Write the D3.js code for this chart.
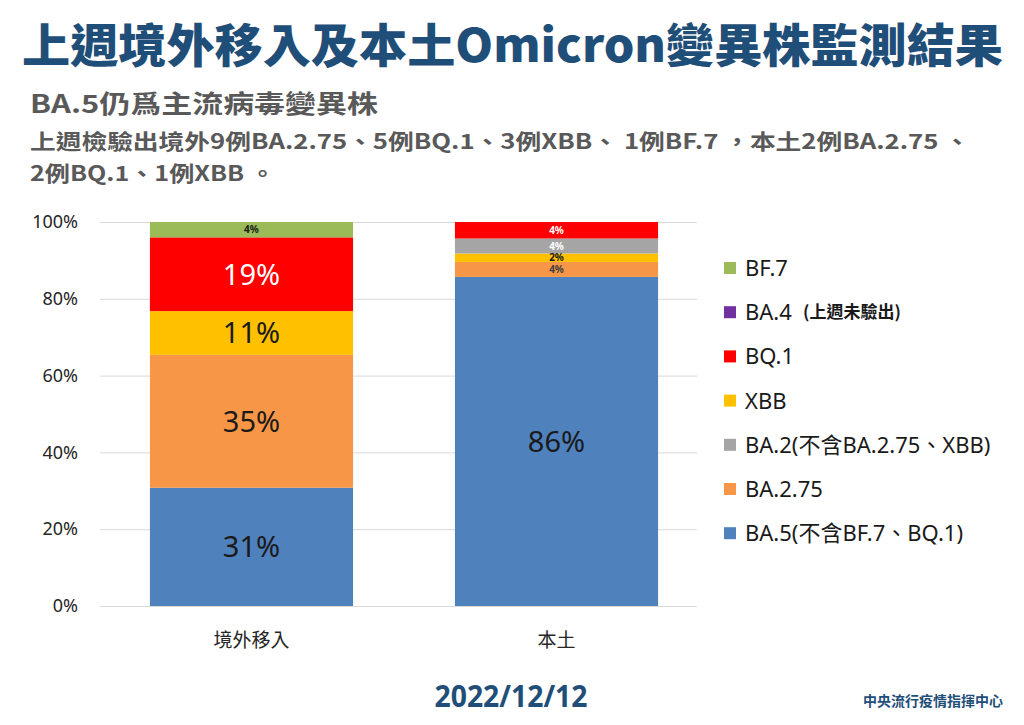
<!DOCTYPE html>
<html>
<head>
<meta charset="utf-8">
<script src="https://cdn.jsdelivr.net/npm/d3@7"></script>
<style>
  body { margin: 0; background: #fff; }
  text { font-family: "Noto Sans", "Noto Sans CJK TC", sans-serif; }
</style>
</head>
<body>
<div id="chart"></div>
<script>
// categories and series (percent of sequenced cases), stacked bottom -> top
let categories = ["境外移入", "本土"];
let variants = ["BA.5", "BA.2.75", "XBB", "BA.2", "BQ.1", "BA.4", "BF.7"];
let imported = [30.8, 34.6, 11.4, 0, 19.2, 0, 4.0];
let domestic = [85.7, 3.9, 2.2, 3.9, 4.3, 0, 0];
let yTicks = [0, 20, 40, 60, 80, 100];

let legendNames = ["BF.7", "BA.4", "BQ.1", "XBB", "BA.2(不含BA.2.75、XBB)", "BA.2.75", "BA.5(不含BF.7、BQ.1)"];
let legendKeys = ["BF.7", "BA.4", "BQ.1", "XBB", "BA.2", "BA.2.75", "BA.5"];

let colors = {
  "BA.5": "#4f81bd", "BA.2.75": "#f79646", "XBB": "#ffc000", "BA.2": "#a5a5a5",
  "BQ.1": "#ff0000", "BA.4": "#7030a0", "BF.7": "#9bbb59"
};

let W = 1024, H = 725;
let plot = {left: 100, right: 697, top: 222, bottom: 606};

let svg = d3.select("#chart").append("svg")
  .attr("width", W).attr("height", H);

// titles
svg.append("text")
  .attr("x", 22).attr("y", 62)
  .attr("textLength", 981).attr("lengthAdjust", "spacingAndGlyphs")
  .style("font-family", "'Noto Sans CJK TC', sans-serif")
  .style("font-weight", 900).style("font-size", "46px")
  .style("fill", "#1f4e79")
  .text("上週境外移入及本土Omicron變異株監測結果");

let sub = [
  {t: "BA.5仍爲主流病毒變異株", y: 113, size: 25, len: 348},
  {t: "上週檢驗出境外9例BA.2.75、5例BQ.1、3例XBB、 1例BF.7 ，本土2例BA.2.75 、", y: 149, size: 21, len: 940},
  {t: "2例BQ.1、1例XBB 。", y: 181, size: 21, len: 245}
];
svg.selectAll(".sub").data(sub).enter().append("text")
  .attr("x", 30).attr("y", d => d.y)
  .attr("textLength", d => d.len).attr("lengthAdjust", "spacingAndGlyphs")
  .style("font-family", "'Noto Sans CJK TC', sans-serif")
  .style("font-weight", 700).style("font-size", d => d.size + "px")
  .style("fill", "#595959")
  .text(d => d.t);

// scales
let x = d3.scaleBand()
  .domain(categories)
  .range([106, 702])
  .paddingInner(0.334).paddingOuter(0.144);

let y = d3.scaleLinear()
  .domain([0, 100])
  .range([plot.bottom, plot.top]);

// gridlines + y axis
let yAxis = d3.axisLeft(y)
  .tickValues(yTicks)
  .tickSize(-(plot.right - plot.left))
  .tickFormat(d => d + "%");

let gy = svg.append("g")
  .attr("transform", "translate(" + plot.left + ",0)")
  .call(yAxis);
gy.select(".domain").remove();
gy.selectAll("line").attr("stroke", "#d9d9d9");
gy.selectAll("text")
  .attr("x", -22)
  .style("font-size", "18px").style("fill", "#262626");

// x axis labels
let gx = svg.append("g")
  .attr("transform", "translate(0," + plot.bottom + ")")
  .call(d3.axisBottom(x).tickSize(0));
gx.select(".domain").remove();
gx.selectAll("text")
  .attr("dy", "2em")
  .style("font-family", "'Noto Sans CJK TC', sans-serif")
  .style("font-size", "19px").style("fill", "#262626");

// stacked data
let rows = categories.map((c, i) => {
  let vals = i === 0 ? imported : domestic;
  let r = {cat: c};
  variants.forEach((v, j) => r[v] = vals[j]);
  return r;
});
let series = d3.stack().keys(variants)(rows);

let layer = svg.selectAll(".layer").data(series).enter().append("g")
  .attr("fill", d => colors[d.key]);

layer.selectAll("rect").data(d => d.map(p => ({p: p, key: d.key})))
  .enter().append("rect")
  .attr("x", d => x(d.p.data.cat))
  .attr("width", x.bandwidth())
  .attr("y", d => y(d.p[1]))
  .attr("height", d => y(d.p[0]) - y(d.p[1]));

// value labels
let labelColor = {"BQ.1": "#ffffff", "BA.2": "#ffffff"};
let cells = [];
series.forEach(s => s.forEach(p => {
  let v = p[1] - p[0];
  if (v > 0) cells.push({key: s.key, p: p, v: v});
}));

svg.selectAll(".val").data(cells).enter().append("text")
  .attr("x", d => x(d.p.data.cat) + x.bandwidth() / 2)
  .attr("y", d => (y(d.p[0]) + y(d.p[1])) / 2)
  .attr("dy", "0.36em")
  .attr("text-anchor", "middle")
  .style("font-size", d => d.v > 8 ? "29px" : "10px")
  .style("font-weight", d => d.v > 8 ? 400 : 700)
  .style("fill", d => {
    if (labelColor[d.key]) return labelColor[d.key];
    if (d.key === "BA.2.75" && d.v < 8) return "#404040";
    return "#1a1a1a";
  })
  .text(d => Math.round(d.v) + "%");

// legend
let lg = svg.selectAll(".lg").data(legendKeys).enter().append("g")
  .attr("transform", (d, i) => "translate(724," + (268 + i * 44.2) + ")");
lg.append("rect")
  .attr("y", -6).attr("width", 12).attr("height", 12)
  .attr("fill", d => colors[d]);
lg.append("text")
  .attr("x", 21).attr("dy", "0.36em")
  .style("font-size", "22px").style("fill", "#1a1a1a")
  .text((d, i) => legendNames[i]);
lg.filter(d => d === "BA.4").append("text")
  .attr("x", 79).attr("dy", "0.36em")
  .style("font-family", "'Noto Sans CJK TC', sans-serif")
  .style("font-size", "17px").style("font-weight", 700).style("fill", "#1a1a1a")
  .text("(上週未驗出)");

// footer
svg.append("text")
  .attr("x", 511).attr("y", 707)
  .attr("text-anchor", "middle")
  .attr("textLength", 153).attr("lengthAdjust", "spacingAndGlyphs")
  .style("font-family", "'Open Sans', sans-serif")
  .style("font-weight", 700).style("font-size", "30px").style("fill", "#1f4e79")
  .text("2022/12/12");

svg.append("text")
  .attr("x", 1003).attr("y", 706)
  .attr("text-anchor", "end")
  .style("font-family", "'Noto Sans CJK TC', sans-serif")
  .style("font-weight", 700).style("font-size", "14px").style("fill", "#1f4e79")
  .text("中央流行疫情指揮中心");
</script>
</body>
</html>
